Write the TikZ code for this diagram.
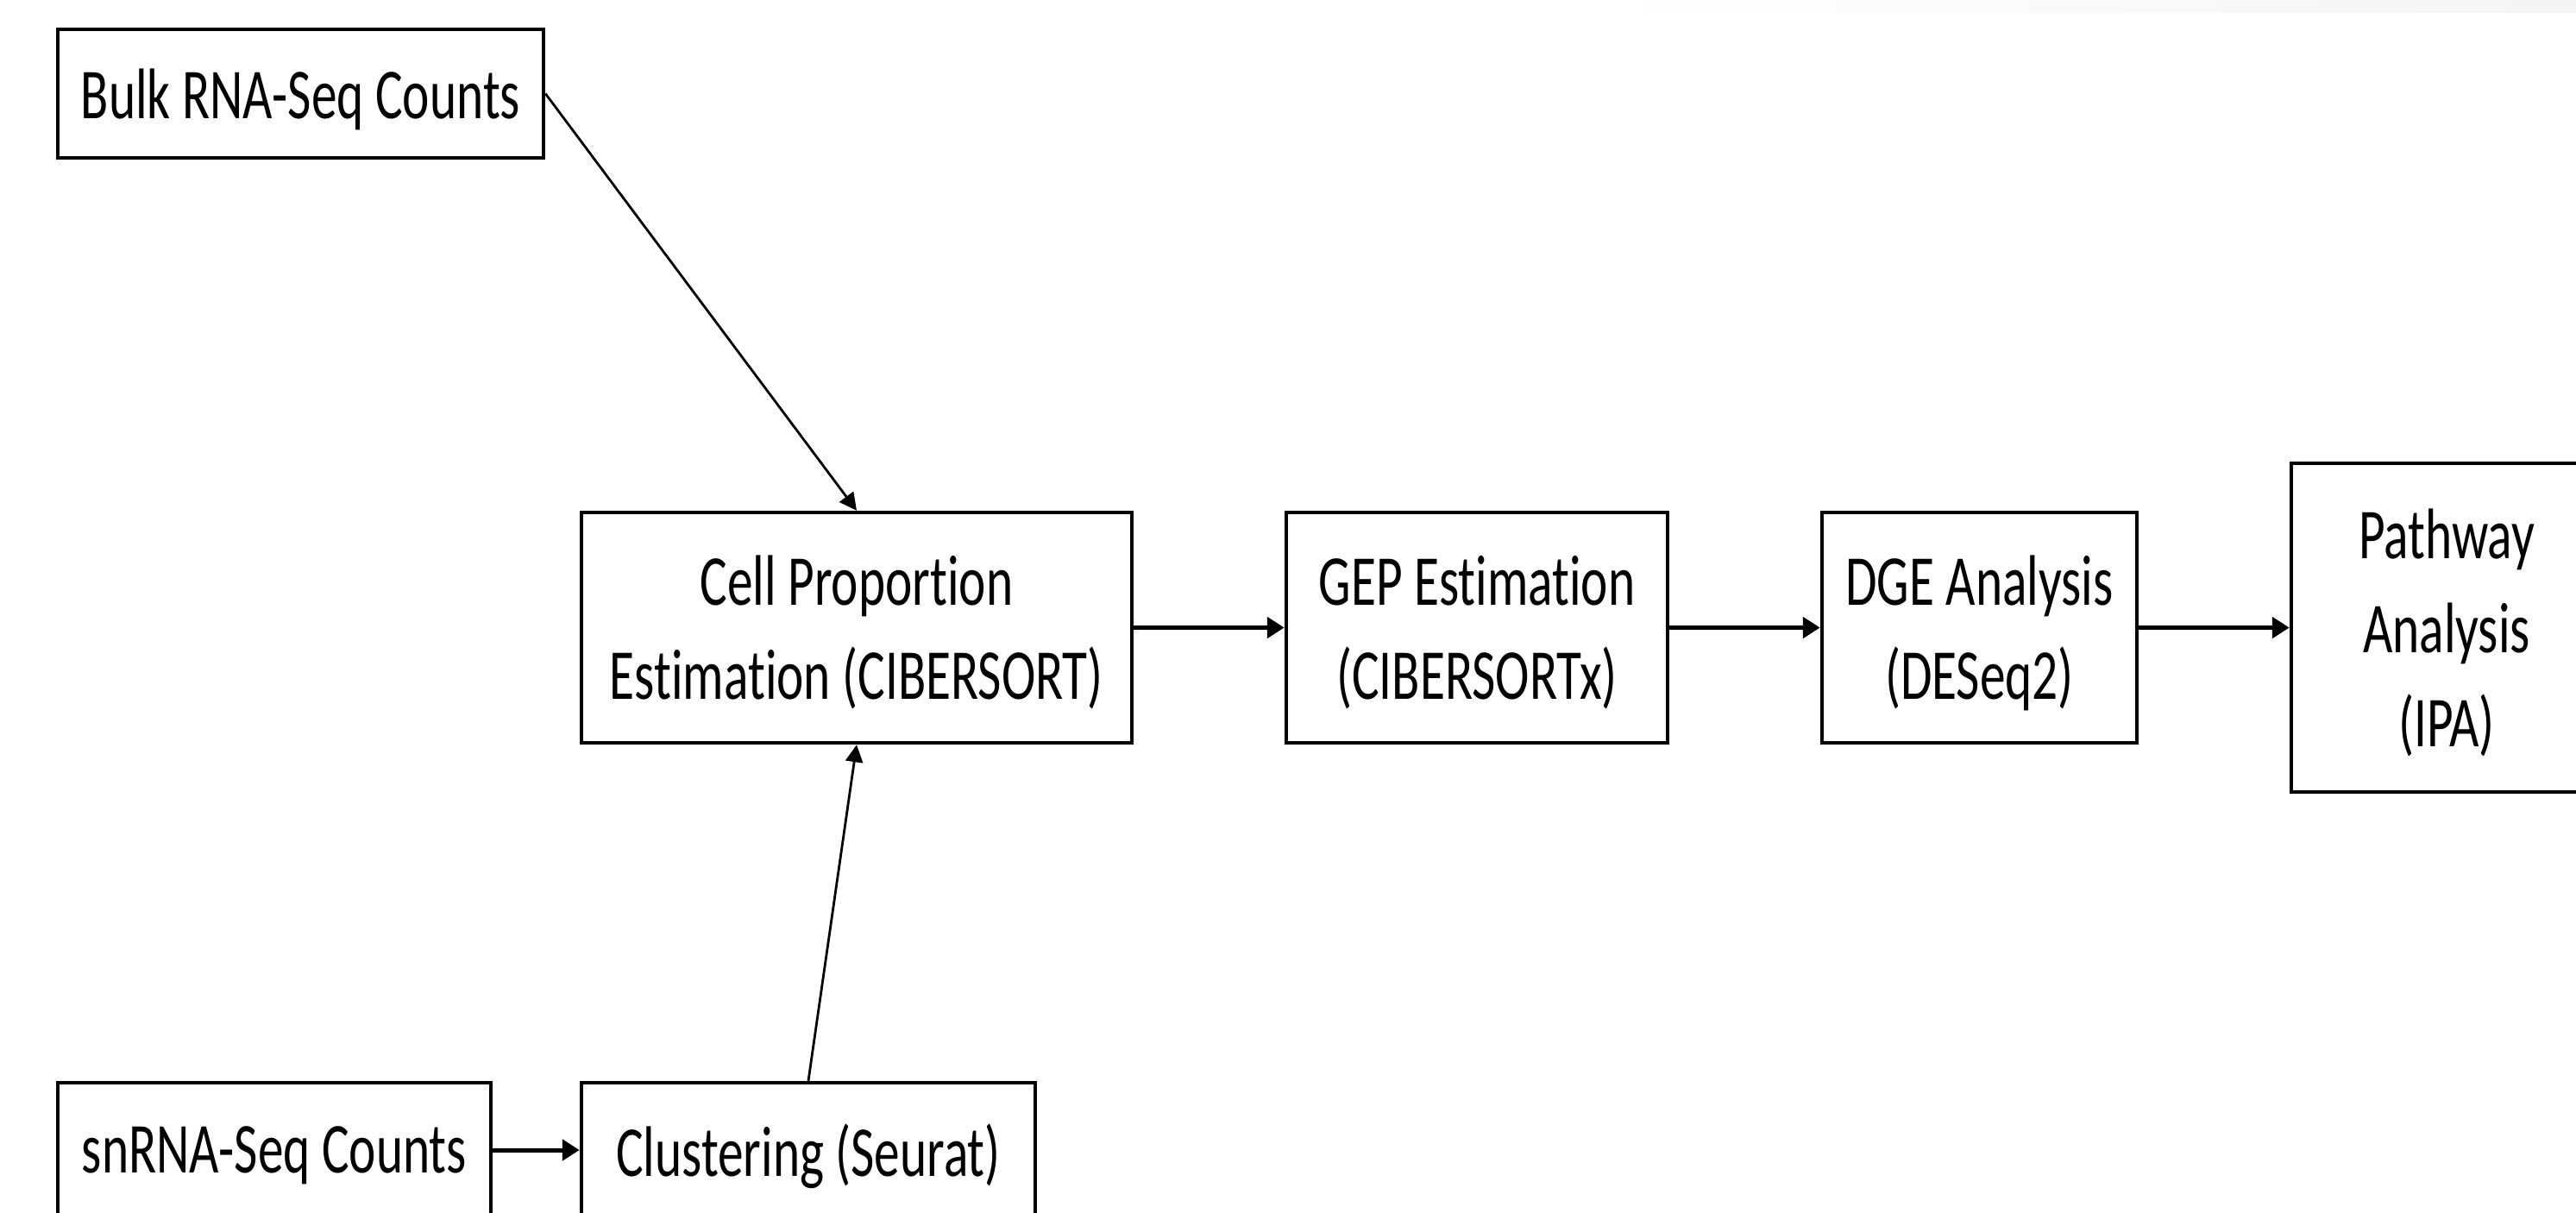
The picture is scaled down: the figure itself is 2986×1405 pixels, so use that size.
\documentclass[tikz,border=0pt]{standalone}
\usepackage{fontspec}
\setmainfont{Carlito}[FakeStretch=0.715,Ligatures=NoCommon]
\usetikzlibrary{arrows.meta}
\begin{document}
\begin{tikzpicture}[x=1pt,y=-1pt,
  box/.style={draw=black, line width=4.5pt, rectangle, inner sep=0pt, align=center,
    text depth=0pt, font=\fontsize{83}{109}\selectfont},
  conn/.style={line width=5pt, -{Triangle[length=20pt,width=24pt]}},
  thinconn/.style={line width=2.8pt, -{Triangle[length=20pt,width=20pt]}}]
\useasboundingbox (0,0) rectangle (2986,1405);
\clip (0,0) rectangle (2986,1405);
\fill[white] (0,0) rectangle (2986,1405);
\shade[left color=white, right color=black!4] (1850,0) rectangle (2986,15);

\node[box, minimum width=563pt, minimum height=149pt] (bulk) at (348.5,108.5) {Bulk RNA-Seq Counts};
\node[box, minimum width=638pt, minimum height=267pt] (cell) at (993,727.5) {Cell Proportion\\Estimation (CIBERSORT)};
\node[box, minimum width=442pt, minimum height=267pt] (gep) at (1712,727.5) {GEP Estimation\\(CIBERSORTx)};
\node[box, minimum width=365pt, minimum height=267pt] (dge) at (2294.5,727.5) {DGE Analysis\\(DESeq2)};
\node[box, minimum width=360pt, minimum height=381pt] (path) at (2836,727.5) {Pathway\\Analysis\\(IPA)};
\node[box, minimum width=502pt, minimum height=156pt] (sn) at (318,1333) {snRNA-Seq Counts};
\node[box, minimum width=526pt, minimum height=156pt] (clu) at (937,1333) {Clustering (Seurat)};

\draw[thinconn] (bulk.east) -- (cell.north);
\draw[thinconn] (clu.north) -- (cell.south);
\draw[conn] (cell.east) -- (gep.west);
\draw[conn] (gep.east) -- (dge.west);
\draw[conn] (dge.east) -- (path.west);
\draw[conn] (sn.east) -- (clu.west);
\end{tikzpicture}
\end{document}
